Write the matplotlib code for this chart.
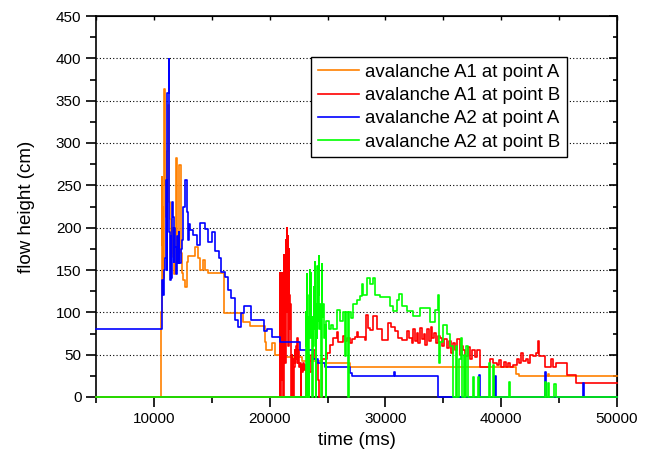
import matplotlib
matplotlib.use("Agg")
import matplotlib.pyplot as plt
import numpy as np

plt.rcParams['font.family'] = ['Liberation Sans', 'DejaVu Sans']

# flow height records as (time ms, height cm) steps
a1_a_time = [5000, 10580, 10600, 10670, 10720, 10750, 10800, 10870, 10940, 11020,
             11090, 11160, 11240, 11300, 11380, 11440, 11500, 11560, 11620, 11700,
             11800, 11880, 11960, 12080, 12200, 12300, 12400, 12540, 12700, 12830,
             12970, 13540, 13830, 13970, 14260, 14400, 14690, 16050, 17720, 18300,
             19600, 19700, 19800, 20200, 20500, 21000, 22800, 24500, 26900, 41300,
             41500, 44000, 44100, 50000]
a1_a_height = [0, 0, 100, 260, 180, 225, 140, 364, 250, 213,
               160, 290, 345, 230, 210, 150, 165, 200, 170, 145,
               160, 282, 158, 175, 274, 170, 147, 138, 130, 159,
               166, 177, 164, 150, 162, 150, 146, 99, 89, 84,
               65, 56, 55, 64, 50, 47, 43, 40, 35, 27,
               25, 27, 25, 25]

a1_b_time = [5000, 20890, 20930, 20970, 21010, 21050, 21090, 21130, 21170, 21210,
             21260, 21300, 21340, 21380, 21420, 21460, 21500, 21540, 21580, 21620,
             21660, 21700, 21740, 21780, 21820, 21860, 21900, 21950, 22000, 22050,
             22100, 22150, 22200, 22260, 22320, 22380, 22430, 22490, 22550, 22620,
             22700, 22740, 22820, 22900, 22980, 23060, 23150, 23200, 23400, 23550,
             23700, 23850, 24000, 24150, 24300, 24460, 24550, 24920, 25200, 25500,
             25800, 25930, 26070, 26300, 26500, 26700, 26900, 27100, 27370, 27520,
             27660, 28230, 28320, 28520, 28660, 28950, 29240, 29680, 30110, 30250,
             30500, 30820, 31100, 31400, 31830, 32000, 32260, 32400, 32550, 32700,
             32850, 33000, 33150, 33300, 33450, 33600, 33750, 33900, 34050, 34200,
             34350, 34500, 34710, 34900, 35100, 35300, 35500, 35700, 35860, 36000,
             36200, 36400, 36600, 36720, 36900, 37100, 37300, 37500, 37700, 37900,
             38170, 39030, 39300, 39610, 39800, 40000, 40200, 40400, 40600, 40800,
             41000, 41340, 41500, 41700, 41900, 42100, 42300, 42500, 42780, 43000,
             43210, 43300, 43790, 44300, 44500, 44700, 45660, 46470, 50000]
a1_b_height = [0, 147, 0, 130, 60, 147, 20, 140, 0, 168,
               90, 168, 40, 185, 100, 165, 200, 130, 190, 60,
               175, 120, 80, 110, 40, 0, 50, 25, 45, 0,
               35, 55, 40, 60, 45, 70, 40, 55, 35, 40,
               0, 38, 30, 40, 32, 38, 0, 45, 30, 50,
               45, 55, 40, 20, 0, 0, 45, 52, 62, 70,
               77, 65, 65, 72, 66, 70, 64, 68, 71, 77,
               71, 67, 97, 81, 79, 96, 80, 67, 67, 87,
               83, 78, 70, 67, 78, 70, 64, 80, 66, 76,
               64, 82, 68, 74, 62, 80, 66, 83, 70, 76,
               64, 72, 70, 60, 68, 58, 66, 52, 64, 55,
               68, 50, 60, 56, 48, 59, 45, 55, 47, 56,
               36, 45, 40, 38, 44, 35, 41, 36, 40, 35,
               38, 45, 40, 52, 42, 45, 40, 50, 48, 52,
               66, 48, 36, 45, 36, 40, 26, 16, 16]

a2_a_time = [5000, 10670, 10800, 10900, 10960, 11050, 11100, 11160, 11280, 11330,
             11400, 11450, 11500, 11540, 11600, 11650, 11700, 11760, 11820, 11900,
             11980, 12110, 12150, 12200, 12300, 12400, 12540, 12690, 12890, 12950,
             13000, 13120, 13400, 13700, 14000, 14400, 14700, 15000, 15300, 15600,
             15800, 16100, 16400, 16700, 17000, 17300, 17500, 17800, 18400, 19500,
             19800, 20200, 20900, 22600, 23700, 24200, 24800, 26900, 27100, 30700,
             30850, 34540, 38050, 38150, 39450, 39550, 43800, 43900, 47050, 47150,
             50000]
a2_a_height = [80, 138, 120, 150, 164, 256, 150, 359, 399, 195,
               138, 190, 140, 170, 230, 213, 160, 200, 177, 145,
               190, 158, 195, 158, 175, 185, 224, 256, 218, 185,
               204, 197, 191, 180, 205, 198, 183, 195, 173, 164,
               148, 142, 126, 117, 91, 83, 99, 107, 91, 78,
               80, 71, 65, 55, 45, 40, 35, 28, 25, 30,
               25, 0, 26, 0, 25, 0, 30, 0, 17, 0,
               0]

a2_b_time = [5000, 23100, 23150, 23200, 23250, 23300, 23350, 23400, 23440, 23480,
             23520, 23560, 23600, 23640, 23680, 23720, 23760, 23800, 23840, 23880,
             23930, 23970, 24010, 24050, 24100, 24150, 24200, 24250, 24300, 24350,
             24400, 24460, 24500, 24560, 24620, 24680, 24740, 24830, 24880, 25100,
             25300, 25500, 25790, 26060, 26300, 26500, 26600, 26790, 26850, 27000,
             27230, 27520, 27800, 27950, 28080, 28380, 28660, 28950, 29100, 29530,
             30400, 30680, 30970, 31200, 31400, 31830, 32400, 32980, 33840, 34300,
             34500, 34600, 34710, 35000, 35290, 35600, 35860, 36100, 36200, 36350,
             36500, 36600, 36750, 36850, 36950, 37100, 37550, 37650, 38000, 38100,
             38950, 39050, 39250, 39350, 40650, 40750, 43750, 43850, 44000, 44100,
             44600, 44700, 50000]
a2_b_height = [0, 100, 60, 145, 0, 95, 50, 0, 120, 150,
               70, 147, 90, 60, 0, 95, 60, 130, 80, 160,
               100, 0, 110, 70, 155, 90, 120, 166, 80, 110,
               60, 0, 157, 95, 110, 70, 85, 0, 90, 80,
               85, 80, 103, 90, 100, 48, 100, 0, 100, 93,
               110, 115, 119, 134, 120, 140, 134, 140, 120, 118,
               108, 101, 114, 122, 108, 101, 96, 105, 88, 103,
               120, 40, 65, 85, 75, 60, 0, 60, 0, 45,
               70, 0, 50, 0, 60, 0, 24, 0, 24, 0,
               40, 0, 38, 0, 18, 0, 18, 0, 17, 0,
               15, 0, 0]

series = [
    ("avalanche A1 at point A", a1_a_time, a1_a_height, "#ff8000"),
    ("avalanche A1 at point B", a1_b_time, a1_b_height, "#ff0000"),
    ("avalanche A2 at point A", a2_a_time, a2_a_height, "#0000ff"),
    ("avalanche A2 at point B", a2_b_time, a2_b_height, "#00ff00"),
]

fig = plt.figure(figsize=(6.51, 4.58), dpi=100)
ax = fig.add_axes([96 / 651, 61 / 458, 521 / 651, 381 / 458])

for label, t, h, color in series:
    ax.plot(t, h, drawstyle='steps-post', color=color, lw=1.2,
            label=label, clip_on=False, zorder=3)

ax.set_xlim(5000, 50000)
ax.set_ylim(0, 450)
ax.set_xticks(np.arange(10000, 50001, 10000))
ax.set_xticks(np.arange(5000, 50001, 5000), minor=True)
ax.set_yticks(np.arange(0, 451, 50))
ax.set_yticks(np.arange(0, 451, 25), minor=True)

for y in np.arange(50, 401, 50):
    ax.axhline(y, color='black', lw=0.8, ls=(0, (1, 2)), zorder=1)

ax.tick_params(which='major', direction='out', length=7, width=1.2, labelsize=11)
ax.tick_params(which='minor', direction='out', length=4, width=1.2)
for s in ax.spines.values():
    s.set_linewidth(1.2)
ax.spines['bottom'].set_zorder(2)

top = ax.secondary_xaxis('top')
top.set_xticks(np.arange(10000, 50001, 10000))
top.set_xticks(np.arange(5000, 50001, 5000), minor=True)
top.tick_params(which='both', direction='in', length=3, width=1, labeltop=False)
right = ax.secondary_yaxis('right')
right.set_yticks(np.arange(0, 451, 50))
right.set_yticks(np.arange(0, 451, 25), minor=True)
right.tick_params(which='major', direction='in', length=6, width=1.2, labelright=False)
right.tick_params(which='minor', direction='in', length=3, width=1.2, labelright=False)

ax.set_xlabel('time (ms)', fontsize=13.5)
ax.set_ylabel('flow height (cm)', fontsize=13.5)
ax.xaxis.set_label_coords(0.5, -0.092)
ax.yaxis.set_label_coords(-0.118, 0.5)

leg = ax.legend(loc='upper right', bbox_to_anchor=(0.904, 0.892), fontsize=13.4,
                frameon=True, fancybox=False, edgecolor='black', framealpha=1,
                borderaxespad=0, handlelength=2.2, handletextpad=0.35,
                labelspacing=0.34, borderpad=0.35)
leg.get_frame().set_linewidth(1.0)
leg.set_zorder(5)

fig.savefig('out.png', dpi=100)
